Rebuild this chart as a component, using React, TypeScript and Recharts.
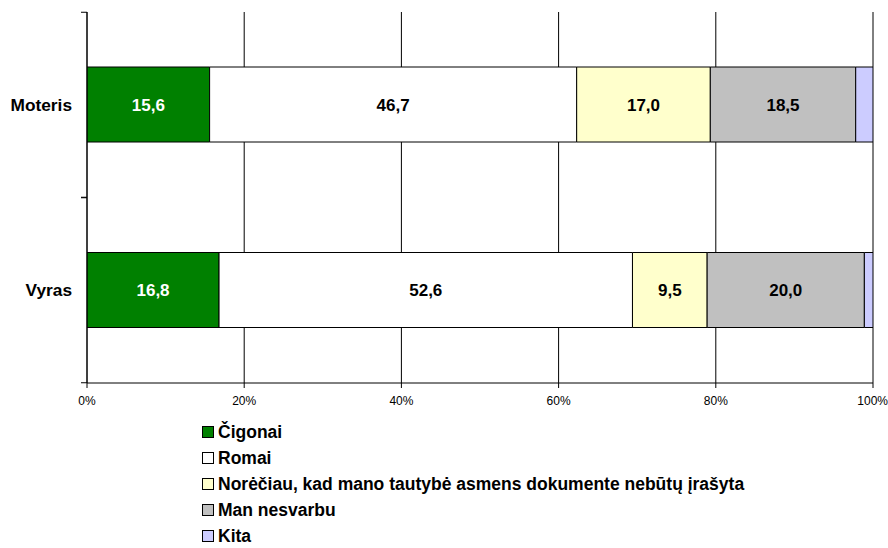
import React from "react";
import { BarChart, Bar, XAxis, YAxis, CartesianGrid, LabelList } from "recharts";

const categories = ["Moteris", "Vyras"];
const seriesNames = [
  "Čigonai",
  "Romai",
  "Norėčiau, kad mano tautybė asmens dokumente nebūtų įrašyta",
  "Man nesvarbu",
  "Kita",
];
const cigonai = [15.6, 16.8];
const romai = [46.7, 52.6];
const noreciau = [17.0, 9.5];
const nesvarbu = [18.5, 20.0];
const kita = [2.2, 1.1];
const xTicks = [0, 20, 40, 60, 80, 100];

const colors = ["#008000", "#FFFFFF", "#FFFFCC", "#C0C0C0", "#CCCCFF"];
const labelColors = ["#FFFFFF", "#000000", "#000000", "#000000", null];
const keys = ["s0", "s1", "s2", "s3", "s4"];
const seriesValues = [cigonai, romai, noreciau, nesvarbu, kita];

const data = categories.map((c, i) => {
  const row: any = { name: c };
  keys.forEach((k, j) => (row[k] = seriesValues[j][i]));
  return row;
});

const FONT = "Arial, 'Liberation Sans', sans-serif";

const CatTick = (props: any) => {
  const { x, y, payload } = props;
  const half = 92.5;
  const lx = x + 9;
  return (
    <g>
      <line x1={lx} x2={lx + 6} y1={y - half} y2={y - half} stroke="#000" />
      <line x1={lx} x2={lx + 6} y1={y + half} y2={y + half} stroke="#000" />
      <text
        x={x}
        y={y}
        textAnchor="end"
        dominantBaseline="central"
        fontFamily={FONT}
        fontWeight="bold"
        fontSize={17.3}
        fill="#000"
      >
        {payload.value}
      </text>
    </g>
  );
};

const fmt = (v: number) => v.toFixed(1).replace(".", ",");

export default function App() {
  return (
    <div style={{ position: "absolute", left: 0, top: 0, width: 888, height: 548, background: "#fff" }}>
      <BarChart
        width={888}
        height={548}
        data={data}
        layout="vertical"
        margin={{ top: 12, right: 15, bottom: 135, left: 7 }}
        barSize={75}
      >
        <CartesianGrid horizontal={false} vertical={true} stroke="#000" strokeOpacity={1} />
        <XAxis
          type="number"
          domain={[0, 100]}
          ticks={xTicks}
          tickFormatter={(v: number) => `${v}%`}
          tick={{ fontSize: 12, fontFamily: FONT, fill: "#000", stroke: "none" }}
          axisLine={{ stroke: "#000" }}
          tickLine={{ stroke: "#000" }}
          tickSize={5}
          tickMargin={8}
          height={30}
          allowDataOverflow
        />
        <YAxis
          type="category"
          dataKey="name"
          width={80}
          axisLine={{ stroke: "#000" }}
          tickLine={false}
          tickSize={6}
          tickMargin={9}
          tick={<CatTick />}
        />
        {keys.map((k, j) => (
          <Bar
            key={k}
            dataKey={k}
            name={seriesNames[j]}
            stackId="a"
            fill={colors[j]}
            stroke="#000"
            strokeWidth={1}
            isAnimationActive={false}
          >
            {labelColors[j] && (
              <LabelList
                dataKey={k}
                position="center"
                formatter={(v: any) => fmt(Number(v))}
                fill={labelColors[j] as string}
                style={{ fontFamily: FONT, fontWeight: "bold", fontSize: 17, stroke: "none" }}
              />
            )}
          </Bar>
        ))}
      </BarChart>
      <div style={{ position: "absolute", left: 202, top: 419, fontFamily: FONT, fontWeight: "bold", fontSize: 17.5, lineHeight: "20px" }}>
        {seriesNames.map((n, j) => (
          <div key={n} style={{ display: "flex", alignItems: "center", height: 26, whiteSpace: "nowrap" }}>
            <span
              style={{
                display: "inline-block",
                width: 10,
                height: 10,
                background: colors[j],
                border: "1px solid #000",
                marginRight: 4,
              }}
            />
            <span>{n}</span>
          </div>
        ))}
      </div>
    </div>
  );
}
